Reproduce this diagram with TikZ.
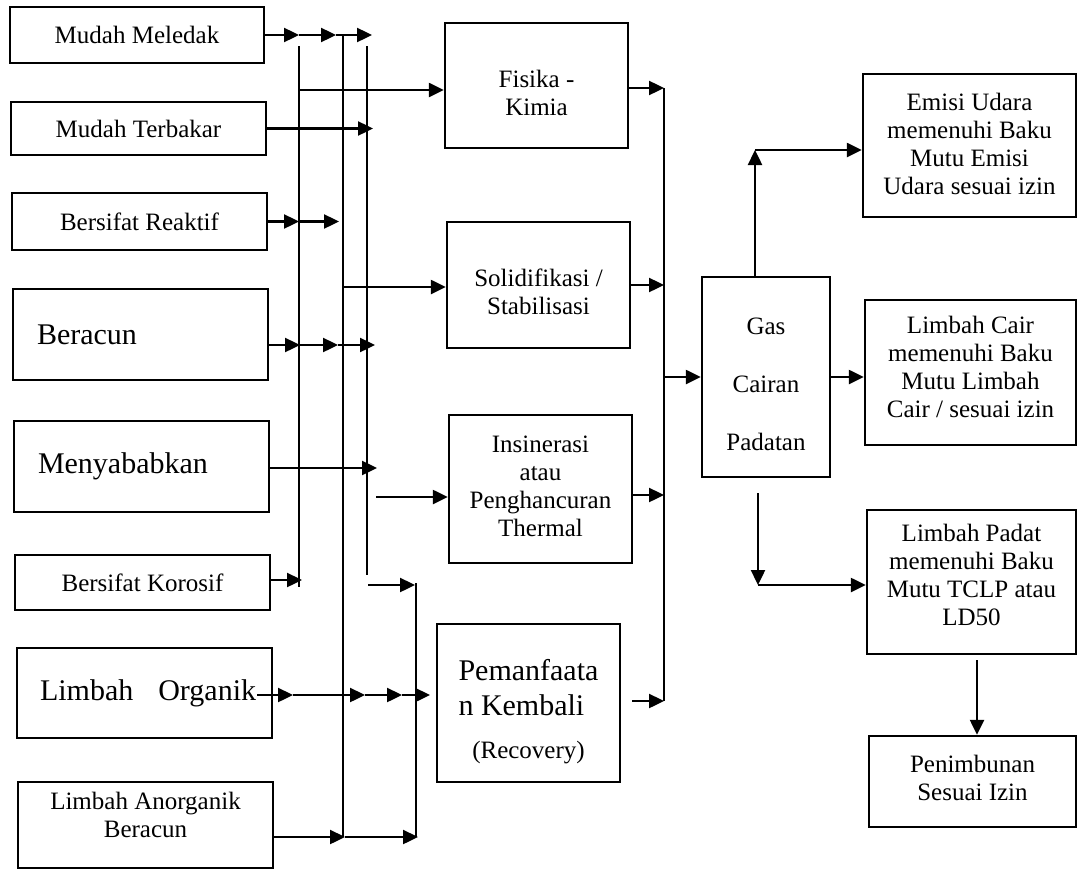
\documentclass[tikz,border=0pt]{standalone}
\usepackage{fontspec}
\setmainfont{Liberation Serif}
\usetikzlibrary{arrows.meta}
\newcommand\tsh[2]{\raisebox{#1}[\height][\depth]{\begin{tabular}{@{}c@{}}#2\end{tabular}}}
\begin{document}
\begin{tikzpicture}[x=1pt,y=-1pt,
  box/.style={draw, line width=2.4pt, inner sep=0pt, font=\fontsize{25}{28}\selectfont},
  big/.style={font=\fontsize{30}{35}\selectfont},
  ar/.style={line width=2.4pt, -{Triangle[length=15pt,width=14pt]}},
  ln/.style={line width=2.4pt}]
\useasboundingbox (0,0) rectangle (1078,870);
\fill[white] (0,0) rectangle (1078,870);

% left column
\node[box, minimum width=254pt, minimum height=56pt] (mm) at (137,35) {Mudah Meledak};
\node[box, minimum width=255pt, minimum height=53pt] (mt) at (138.5,128.5) {Mudah Terbakar};
\node[box, minimum width=255pt, minimum height=57pt] (br) at (139.5,221.5) {Bersifat Reaktif};
\node[box, big, minimum width=255pt, minimum height=91pt] (bc) at (140.5,334.5) {\makebox[207pt][l]{Beracun}};
\node[box, big, minimum width=255pt, minimum height=91pt] (my) at (141.5,466.5) {\makebox[207pt][l]{Menyababkan}};
\node[box, minimum width=255pt, minimum height=55pt] (bk) at (142.5,582.5) {Bersifat Korosif};
\node[box, big, minimum width=255pt, minimum height=90pt] (lo) at (144.5,693) {\makebox[209pt][l]{Limbah\hspace{25pt}Organik}};
\node[box, minimum width=255pt, minimum height=86pt] (la) at (145.5,825) {\tsh{7pt}{Limbah Anorganik\\Beracun}};

% process column
\node[box, minimum width=183pt, minimum height=125pt] (fk) at (536.5,85.5) {\tsh{-10pt}{Fisika -\\Kimia}};
\node[box, minimum width=183pt, minimum height=126pt] (sb) at (538.5,285) {\tsh{-10pt}{Solidifikasi /\\Stabilisasi}};
\node[box, minimum width=183pt, minimum height=148pt] (ins) at (540.5,489) {\tsh{0pt}{Insinerasi\\atau\\Penghancuran\\Thermal}};
\node[box, big, minimum width=183pt, minimum height=158pt] (pm) at (528.5,703) {\tsh{-9pt}{\makebox[140pt][l]{Pemanfaata}\\\makebox[140pt][l]{n Kembali}\\[8pt]{\fontsize{25}{28}\selectfont (Recovery)}}};

% gas box
\node[box, minimum width=128pt, minimum height=200pt] (gas) at (766,377) {\tsh{-10pt}{Gas\\[30pt]Cairan\\[30pt]Padatan}};

% right column
\node[box, minimum width=213pt, minimum height=143pt] (em) at (969.5,145.5) {\tsh{-1pt}{Emisi Udara\\memenuhi Baku\\Mutu Emisi\\Udara sesuai izin}};
\node[box, minimum width=211pt, minimum height=145pt] (lc) at (970.5,372.5) {\tsh{3pt}{Limbah Cair\\memenuhi Baku\\Mutu Limbah\\Cair / sesuai izin}};
\node[box, minimum width=209pt, minimum height=144pt] (lp) at (971.5,582) {\tsh{4pt}{Limbah Padat\\memenuhi Baku\\Mutu TCLP atau\\LD50}};
\node[box, minimum width=207pt, minimum height=91pt] (pn) at (972.5,781.5) {\tsh{1pt}{Penimbunan\\Sesuai Izin}};

% vertical buses
\coordinate (v1t) at (299,46);  \coordinate (v1b) at (299,587);
\coordinate (v2t) at (343,35);  \coordinate (v2b) at (343,837);
\coordinate (v3t) at (367,46);  \coordinate (v3b) at (367,575);
\coordinate (v4t) at (416,583); \coordinate (v4b) at (416,837);
\draw[ln] (v1t) -- (v1b);
\draw[ln] (v2t) -- (v2b);
\draw[ln] (v3t) -- (v3b);
\draw[ln] (v4t) -- (v4b);

% Mudah Meledak
\coordinate (mm1) at (299,35); \coordinate (mm2) at (336,35); \coordinate (mm3) at (372,35);
\draw[ar] (mm.east) -- (mm1);
\draw[ar] (mm1) -- (mm2);
\draw[ar] (mm2) -- (mm3);
% Mudah Terbakar
\coordinate (mt1) at (373,128.5);
\draw[ar] (mt.east) -- (mt1);
% Bersifat Reaktif
\coordinate (br1) at (299,221.5); \coordinate (br2) at (339,221.5);
\draw[ar] (br.east) -- (br1);
\draw[ar] (br1) -- (br2);
% Beracun
\coordinate (bc1) at (300,345); \coordinate (bc2) at (338,345); \coordinate (bc3) at (375,345);
\draw[ar] (bc1 -| bc.east) -- (bc1);
\draw[ar] (bc1) -- (bc2);
\draw[ar] (bc2) -- (bc3);
% Menyababkan
\coordinate (my1) at (377,468);
\draw[ar] (my1 -| my.east) -- (my1);
% Bersifat Korosif
\coordinate (bk1) at (302,580);
\draw[ar] (bk1 -| bk.east) -- (bk1);
% Limbah Organik
\coordinate (lo0) at (257,695); \coordinate (lo1) at (293,695); \coordinate (lo2) at (365,695);
\coordinate (lo3) at (402,695); \coordinate (lo4) at (430,695);
\draw[ar] (lo0) -- (lo1);
\draw[ar] (lo1) -- (lo2);
\draw[ar] (lo2) -- (lo3);
\draw[ar] (lo3) -- (lo4);
% Limbah Anorganik
\coordinate (la1) at (345,837); \coordinate (la2) at (418,837);
\draw[ar] (la1 -| la.east) -- (la1);
\draw[ar] (la1) -- (la2);

% bus to processes
\coordinate (h1) at (300,90);
\coordinate (h2) at (343,287);
\coordinate (h3) at (376,497);
\coordinate (h4) at (368,585); \coordinate (h4e) at (415,585);
\draw[ar] (h1) -- (h1 -| fk.west);
\draw[ar] (h2) -- (h2 -| sb.west);
\draw[ar] (h3) -- (h3 -| ins.west);
\draw[ar] (h4) -- (h4e);

% process outputs to collector
\coordinate (c1) at (664,88); \coordinate (c2) at (664,285);
\coordinate (c3) at (664,495); \coordinate (c4) at (664,701);
\coordinate (c5) at (664,377); \coordinate (p0) at (632,701);
\draw[ar] (c1 -| fk.east) -- (c1);
\draw[ar] (c2 -| sb.east) -- (c2);
\draw[ar] (c3 -| ins.east) -- (c3);
\draw[ar] (p0) -- (c4);
\draw[ln] (c1) -- (c4);
\draw[ar] (c5) -- (gas.west);

% gas outputs
\coordinate (g1) at (755,150);
\draw[ar] (g1 |- gas.north) -- (g1);
\draw[ar] (g1) -- (g1 -| em.west);
\draw[ar] (gas.east) -- (gas.east -| lc.west);
\coordinate (g2t) at (758,493); \coordinate (g2) at (758,585);
\draw[ar] (g2t) -- (g2);
\draw[ar] (g2) -- (g2 -| lp.west);
\coordinate (l1) at (977,660);
\draw[ar] (l1) -- (l1 |- pn.north);
\end{tikzpicture}
\end{document}
